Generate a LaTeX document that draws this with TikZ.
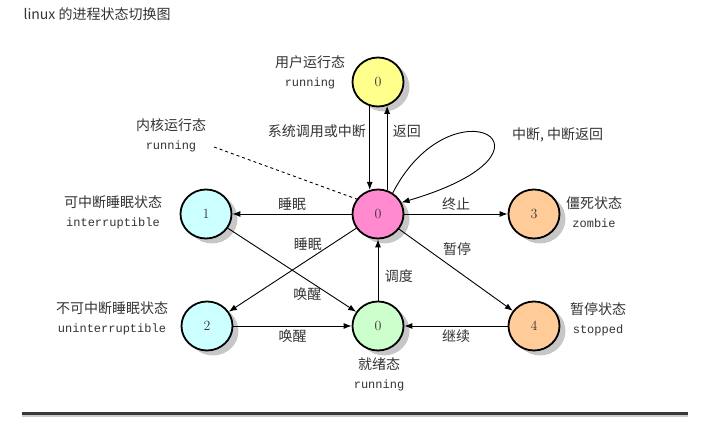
\documentclass[tikz,border=0pt]{standalone}
\usepackage{fontspec}
\newfontfamily\cjkfont{Noto Sans CJK SC}
\newfontfamily\monofont{Liberation Mono}
\usetikzlibrary{shapes.geometric,shadows,arrows.meta}
\definecolor{stuser}{HTML}{FFFF8C}
\definecolor{stkern}{HTML}{FF8AD0}
\definecolor{stsleep}{HTML}{CCFFFF}
\definecolor{stready}{HTML}{CCFFCC}
\definecolor{stend}{HTML}{FFCC99}
\newcommand{\engname}[1]{{\monofont\fontsize{12}{19}\selectfont #1}}
\tikzset{state/.style = {shape=ellipse,draw,line width=1.8pt,minimum width=51pt,minimum height=49pt,inner sep=0pt,font=\fontsize{14}{14}\selectfont,text=black!80,drop shadow={shadow xshift=6pt,shadow yshift=-5pt,fill=black!22,opacity=1}}}
\tikzset{edge/.style = {->,> = {Latex[length=8pt,width=6pt]},line width=0.9pt}}
\tikzset{lbl/.style = {font=\cjkfont\fontsize{14}{19}\selectfont,text=black!80}}
\tikzset{desc/.style = {lbl,align=center}}

\begin{document}
\begin{tikzpicture}[x=1pt,y=-1pt]
          \useasboundingbox (0,0) rectangle (723,427);
          \node[anchor=west,font=\cjkfont\fontsize{14}{16}\selectfont,text=black!80] (title) at (20,14) {linux 的进程状态切换图};

          \node[state,fill=stuser] (U) at (378, 82) {0};
          \node[state,fill=stkern] (K) at (378, 214) {0};
          \node[state,fill=stready] (R) at (378, 326) {0};
          \node[state,fill=stsleep] (I) at (206, 214) {1};
          \node[state,fill=stsleep] (D) at (207, 326) {2};
          \node[state,fill=stend] (Z) at (534, 214) {3};
          \node[state,fill=stend] (T) at (534, 326) {4};

          \node[desc] (Udesc) at (310, 72) {用户运行态\\\engname{running}};
          \node[desc] (Kdesc) at (171, 135) {内核运行态\\\engname{running}};
          \node[desc] (Idesc) at (113, 212) {可中断睡眠状态\\\engname{interruptible}};
          \node[desc] (Ddesc) at (112, 318) {不可中断睡眠状态\\\engname{uninterruptible}};
          \node[desc] (Zdesc) at (594, 212) {僵死状态\\\engname{zombie}};
          \node[desc] (Tdesc) at (598, 319) {暂停状态\\\engname{stopped}};
          \node[desc] (Rdesc) at (379, 374) {就绪态\\\engname{running}};
          \coordinate (Kmark) at (214, 147);

          \path[edge] (U.251) edge node[lbl,left,pos=0.3] {系统调用或中断} (K.109);
          \path[edge] (K.69) edge node[lbl,right=2pt,pos=0.7] {返回} (U.291);
          \draw[edge] (K.55) .. controls (452, 78) and (580, 150) .. node[lbl,right=22pt,pos=0.5] {中断, 中断返回} (K.26);
          \path[edge] (K) edge node[lbl,above] {睡眠} (I);
          \path[edge] (K) edge node[lbl,above] {终止} (Z);
          \path[edge] (K) edge node[lbl,above=6pt,pos=0.38] {睡眠} (D);
          \path[edge] (K) edge node[lbl,above=11pt,pos=0.51] {暂停} (T);
          \path[edge] (I) edge node[lbl,below=4pt,pos=0.62] {唤醒} (R);
          \path[edge] (D) edge node[lbl,below] {唤醒} (R);
          \path[edge] (T) edge node[lbl,below] {继续} (R);
          \path[edge] (R) edge node[lbl,right=3pt,pos=0.4] {调度} (K);
          \draw[dashed,line width=0.9pt] (Kmark) -- (K.145);

          \fill[black!78] (22, 412) rectangle (688, 415);
          \fill[black!20] (22, 415) rectangle (688, 417);
        \end{tikzpicture}
\end{document}
